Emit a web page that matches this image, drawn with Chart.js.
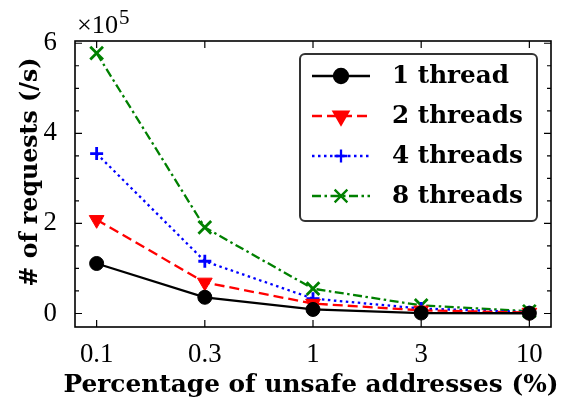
<!DOCTYPE html>
<html>
<head>
<meta charset="utf-8">
<script src="https://cdn.jsdelivr.net/npm/chart.js@4.4.0/dist/chart.umd.min.js"></script>
<style>
  html, body { margin: 0; padding: 0; background: #ffffff; }
  #wrap { width: 564px; height: 399px; }
</style>
</head>
<body>
<div id="wrap"><canvas id="chart" width="564" height="399"></canvas></div>
<script>
// x categories (evenly spaced) and y ticks
const xLabels = ['0.1', '0.3', '1', '3', '10'];
const yTicks = [0, 200000, 400000, 600000];
const seriesNames = ['1 thread', '2 threads', '4 threads', '8 threads'];

// requests per second
const oneThread = [111000, 36000, 9000, 1000, 500];
const twoThreads = [208000, 69000, 22000, 7000, 2000];
const fourThreads = [355000, 116000, 33000, 11000, 3000];
const eightThreads = [578000, 191000, 55000, 18000, 5000];

const X_TITLE = 'Percentage of unsafe addresses (%)';
const Y_TITLE = '# of requests (/s)';

const SERIES_STYLE = [
    { color: '#000000', dash: [], pointStyle: 'circle', radius: 7, rotation: 0, pointBorder: 1 },
    { color: '#ff0000', dash: [10, 5], pointStyle: 'triangle', radius: 8.5, rotation: 180, pointBorder: 1 },
    { color: '#0000ff', dash: [2.5, 3.5], pointStyle: 'cross', radius: 6.5, rotation: 0, pointBorder: 2.8 },
    { color: '#008000', dash: [9, 3.5, 2.5, 3.5], pointStyle: 'crossRot', radius: 9, rotation: 0, pointBorder: 2.8 }
];

const SERIF = '"Liberation Serif"';
const BOLD_SERIF = '"DejaVu Serif"';

/**
 * Font size that makes text span the width measured on the reference
 */
function fitSize(text, weight, family, targetWidth) {
    const c = document.createElement('canvas').getContext('2d');
    c.font = weight + ' 100px ' + family;
    return 100 * targetWidth / c.measureText(text).width;
}

const tickSize = fitSize('0.1', 'normal', SERIF, 33.5);
const xTitleSize = fitSize(X_TITLE, 'bold', BOLD_SERIF, 495);
const yTitleSize = fitSize(Y_TITLE, 'bold', BOLD_SERIF, 229);
const legendSize = fitSize('2 threads', 'bold', BOLD_SERIF, 131);
const offsetSize = fitSize('\u00d710', 'normal', SERIF, 41);

const tickFont = { family: SERIF, size: tickSize };

function makeDataset(name, values, style) {
    return {
        label: name,
        data: values.map((v, i) => ({ x: i, y: v })),
        borderColor: style.color,
        backgroundColor: style.color,
        borderWidth: 2.3,
        borderDash: style.dash,
        tension: 0,
        fill: false,
        pointStyle: style.pointStyle,
        pointRadius: style.radius,
        pointRotation: style.rotation,
        pointBorderWidth: style.pointBorder,
        pointBackgroundColor: style.color,
        pointBorderColor: style.color
    };
}

/**
 * Axes box, inward ticks, axis titles, offset text and the framed legend
 */
const framePlugin = {
    id: 'frame',
    afterDraw(chart) {
        const { ctx, chartArea: a, scales } = chart;
        const x = scales.x, y = scales.y;
        ctx.save();

        // ticks on all four sides
        ctx.strokeStyle = '#000';
        ctx.lineWidth = 1.2;
        ctx.setLineDash([]);
        ctx.beginPath();
        xLabels.forEach((_, i) => {
            const px = x.getPixelForValue(i);
            ctx.moveTo(px, a.bottom); ctx.lineTo(px, a.bottom - 7);
            ctx.moveTo(px, a.top); ctx.lineTo(px, a.top + 7);
        });
        for (let v = 0; v <= 600000; v += 50000) {
            const py = y.getPixelForValue(v);
            const len = v % 200000 === 0 ? 7 : 4;
            ctx.moveTo(a.left, py); ctx.lineTo(a.left + len, py);
            ctx.moveTo(a.right, py); ctx.lineTo(a.right - len, py);
        }
        ctx.stroke();

        // axes box
        ctx.lineWidth = 1.6;
        ctx.strokeRect(a.left, a.top, a.right - a.left, a.bottom - a.top);

        // axis titles
        ctx.fillStyle = '#000';
        ctx.textAlign = 'center';
        ctx.textBaseline = 'alphabetic';
        ctx.font = 'bold ' + xTitleSize + 'px ' + BOLD_SERIF;
        ctx.fillText(X_TITLE, (a.left + a.right) / 2 - 2, 392);

        ctx.font = 'bold ' + yTitleSize + 'px ' + BOLD_SERIF;
        ctx.textBaseline = 'middle';
        ctx.save();
        ctx.translate(31, 172);
        ctx.rotate(-Math.PI / 2);
        ctx.fillText(Y_TITLE, 0, 0);
        ctx.restore();

        // x10^5 offset label
        ctx.textAlign = 'left';
        ctx.textBaseline = 'alphabetic';
        ctx.font = 'normal ' + offsetSize + 'px ' + SERIF;
        ctx.fillText('\u00d710', a.left + 2, 33);
        const w = ctx.measureText('\u00d710').width;
        ctx.font = 'normal ' + (offsetSize * 0.8) + 'px ' + SERIF;
        ctx.fillText('5', a.left + 2 + w + 1, 24);

        // legend
        const box = { left: 300, top: 54, right: 537, bottom: 221 };
        ctx.beginPath();
        ctx.roundRect(box.left, box.top, box.right - box.left, box.bottom - box.top, 5);
        ctx.fillStyle = 'rgba(255,255,255,0.85)';
        ctx.fill();
        ctx.strokeStyle = '#333';
        ctx.lineWidth = 2;
        ctx.stroke();

        ctx.font = 'bold ' + legendSize + 'px ' + BOLD_SERIF;
        ctx.textBaseline = 'middle';
        chart.data.datasets.forEach((ds, i) => {
            const rowY = box.top + 22 + i * 40;
            const style = SERIES_STYLE[i];
            ctx.strokeStyle = style.color;
            ctx.fillStyle = style.color;
            ctx.lineWidth = 2.3;
            ctx.setLineDash(style.dash);
            ctx.beginPath();
            ctx.moveTo(312, rowY);
            ctx.lineTo(370, rowY);
            ctx.stroke();
            ctx.setLineDash([]);
            Chart.helpers.drawPoint(ctx, {
                pointStyle: style.pointStyle,
                radius: style.radius,
                rotation: style.rotation,
                borderWidth: style.pointBorder
            }, 341, rowY);
            ctx.fillStyle = '#000';
            ctx.fillText(ds.label, 392, rowY + 1);
        });

        ctx.restore();
    }
};

const seriesValues = [oneThread, twoThreads, fourThreads, eightThreads];

new Chart(document.getElementById('chart'), {
    type: 'line',
    data: {
        datasets: seriesValues.map((vals, i) => makeDataset(seriesNames[i], vals, SERIES_STYLE[i]))
    },
    options: {
        responsive: false,
        animation: false,
        layout: { padding: { top: 41, right: 13, left: 0, bottom: 0 } },
        plugins: {
            legend: { display: false },
            tooltip: { enabled: false }
        },
        scales: {
            x: {
                type: 'linear',
                min: -0.2,
                max: 4.2,
                grid: { display: false },
                border: { display: false },
                afterBuildTicks: (s) => { s.ticks = xLabels.map((_, i) => ({ value: i })); },
                afterFit: (s) => { s.height = 72; },
                ticks: {
                    callback: (v) => xLabels[v],
                    font: tickFont,
                    color: '#000',
                    padding: 4,
                    maxRotation: 0,
                    autoSkip: false
                },
                title: { display: false }
            },
            y: {
                type: 'linear',
                min: -30000,
                max: 605000,
                grid: { display: false },
                border: { display: false },
                afterBuildTicks: (s) => { s.ticks = yTicks.map((v) => ({ value: v })); },
                afterFit: (s) => { s.width = 75; },
                ticks: {
                    callback: (v) => String(v / 1e5),
                    font: tickFont,
                    color: '#000',
                    padding: 10
                },
                title: { display: false }
            }
        }
    },
    plugins: [framePlugin]
});
</script>
</body>
</html>
